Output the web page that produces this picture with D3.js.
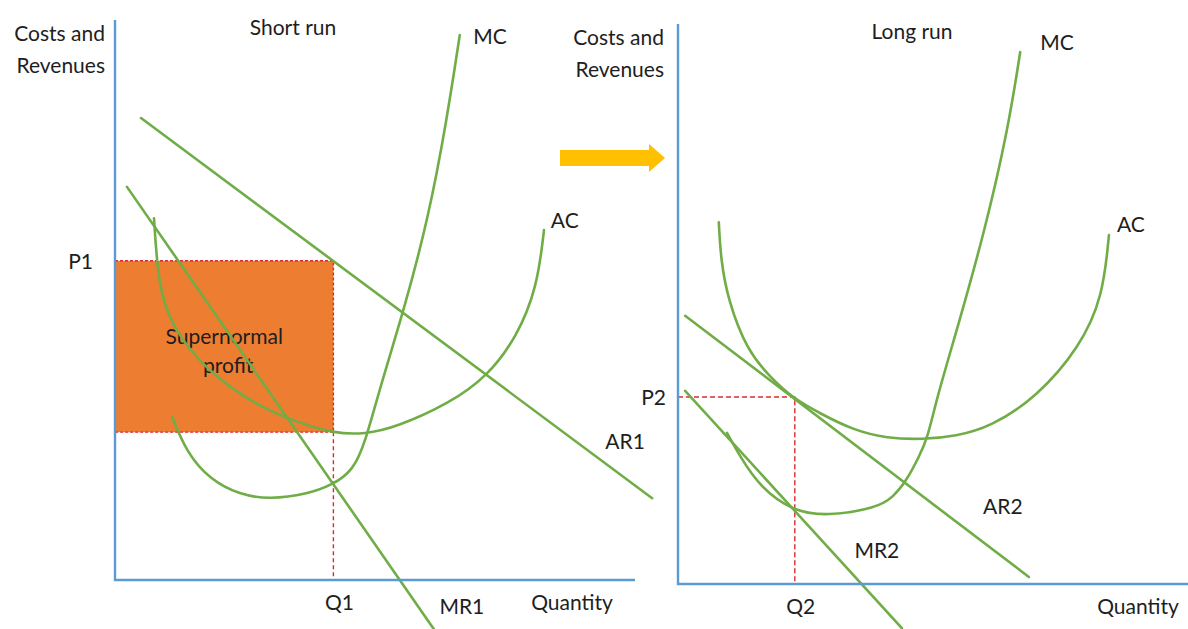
<!DOCTYPE html>
<html>
<head>
<meta charset="utf-8">
<script src="https://cdn.jsdelivr.net/npm/d3@7"></script>
<style>
  body { margin: 0; background: #fff; }
  text { font-family: Lato, "Open Sans", sans-serif; fill: #1e1e1e; font-size: 21px; }
</style>
</head>
<body>
<div id="chart"></div>
<script>
// values in chart units: quantity 0-100 along x, cost/revenue 0-100 along y

// short run
var p1 = 57;
var q1 = 42;
var acAtQ1 = 26.4;
var ar1 = [[5, 82.5], [103.3, 14.6]];
var mr1 = [[2.3, 70.2], [61.3, -8.75]];
var ac1 = [[7.5, 64.6], [8.3, 53.0], [10.6, 45.9], [15.8, 39.3], [22.7, 33.9], [29.2, 30.4],
           [35.0, 28.2], [42.0, 26.2], [48.0, 26.0], [54.2, 27.3], [64.4, 31.6], [71.5, 36.25],
           [77.3, 43.4], [81.2, 52.3], [82.5, 62.5]];
var mc1 = [[11.0, 29.1], [13.8, 22.7], [18.3, 17.9], [24.0, 15.2], [29.8, 14.4], [36.9, 15.3],
           [41.9, 17.0], [45.8, 19.6], [48.1, 24.5], [51.0, 34.5], [55.4, 47.7], [60.2, 64.3],
           [63.8, 82.1], [66.3, 97.3]];

// long run
var p2 = 33.4;
var q2 = 22.9;
var ar2 = [[1.4, 47.9], [68.8, 1.25]];
var mr2 = [[1.4, 34.5], [43.9, -7.9]];
var ac2 = [[8.0, 64.6], [8.4, 57.9], [9.8, 50.7], [13.5, 41.8], [18.0, 37.0], [22.5, 33.2],
           [27.8, 30.5], [34.3, 27.5], [41.0, 26.0], [48.0, 25.8], [54.5, 26.4], [61.2, 28.0],
           [70.4, 33.4], [78.8, 42.3], [83.3, 51.25], [84.5, 62.3]];
var mc2 = [[9.6, 27.0], [12.2, 22.7], [16.1, 17.3], [22.5, 13.0], [29.2, 12.1], [39.0, 13.6],
           [42.2, 15.5], [44.9, 18.6], [47.3, 22.8], [49.0, 26.25], [50.8, 33.4], [54.7, 45.4],
           [60.2, 63.2], [64.7, 81.1], [67.1, 95.0]];

// curve labels [text, x, y] in chart units
var labels1 = [["MC", 72.1, 95.7], ["AC", 86.5, 62.9], ["AR1", 98.1, 23.4], ["MR1", 66.7, -6.1]];
var labels2 = [["MC", 74.3, 95.4], ["AC", 88.8, 62.9], ["AR2", 63.7, 12.5], ["MR2", 39.0, 4.6]];

var width = 1188, height = 629;
var green = "#70ad47", blue = "#5b9bd5", red = "#dc2b2b";

var svg = d3.select("#chart").append("svg")
    .attr("width", width)
    .attr("height", height);

function drawPanel(opt) {
    var x = d3.scaleLinear().domain([0, 100]).range(opt.xRange);
    var y = d3.scaleLinear().domain([0, 100]).range(opt.yRange);
    var g = svg.append("g");
    var line = d3.line().x(d => x(d[0])).y(d => y(d[1]));
    var curve = d3.line().x(d => x(d[0])).y(d => y(d[1])).curve(d3.curveBasis);

    // profit area
    if (opt.profit) {
        g.append("rect")
            .attr("x", x(0))
            .attr("y", y(opt.p))
            .attr("width", x(opt.q) - x(0))
            .attr("height", y(opt.profit) - y(opt.p))
            .attr("fill", "#ed7d31")
            .attr("stroke", red)
            .attr("stroke-width", 1.4)
            .attr("stroke-dasharray", "3,2");
        var mid = y((opt.p + opt.profit) / 2);
        g.append("text")
            .attr("x", x(opt.q / 2))
            .attr("y", mid - 2)
            .attr("text-anchor", "middle")
            .text("Supernormal");
        g.append("text")
            .attr("x", x(opt.q / 2) + 4)
            .attr("y", mid + 27)
            .attr("text-anchor", "middle")
            .text("profit");
        g.append("line")
            .attr("x1", x(opt.q)).attr("x2", x(opt.q))
            .attr("y1", y(opt.profit)).attr("y2", y(0))
            .attr("stroke", red).attr("stroke-width", 1.4)
            .attr("stroke-dasharray", "4,3");
    } else {
        g.append("path")
            .attr("d", line([[0, opt.p], [opt.q, opt.p], [opt.q, 0]]))
            .attr("fill", "none")
            .attr("stroke", red).attr("stroke-width", 1.4)
            .attr("stroke-dasharray", "5,3");
    }

    // curves
    g.append("path").attr("d", line(opt.ar));
    g.append("path").attr("d", line(opt.mr));
    g.append("path").attr("d", curve(opt.ac));
    g.append("path").attr("d", curve(opt.mc));
    g.selectAll("path:not([stroke])")
        .attr("fill", "none")
        .attr("stroke", green)
        .attr("stroke-width", 2.6)
        .attr("stroke-linecap", "round");

    // axes
    g.append("path")
        .attr("d", line([[0, 100], [0, 0], [opt.xEnd, 0]]))
        .attr("fill", "none")
        .attr("stroke", blue)
        .attr("stroke-width", 2.4);

    // axis text
    g.append("text").attr("x", x(0) - opt.pGap).attr("y", y(opt.p) + 8)
        .attr("text-anchor", "end").text(opt.pLabel);
    g.append("text").attr("x", x(opt.q) + 6).attr("y", y(0) + 30)
        .attr("text-anchor", "middle").text(opt.qLabel);
    g.append("text").attr("x", opt.quantityX).attr("y", y(0) + 30)
        .attr("text-anchor", "middle").text("Quantity");
    g.append("text").attr("x", x(0) - opt.yGap).attr("y", y(100) + 21)
        .attr("text-anchor", "end").text("Costs and");
    g.append("text").attr("x", x(0) - opt.yGap).attr("y", y(100) + 53)
        .attr("text-anchor", "end").text("Revenues");
    g.append("text").attr("x", opt.titleX).attr("y", y(100) + 15)
        .attr("text-anchor", "middle").text(opt.title);

    g.selectAll(".curve-label")
        .data(opt.labels)
        .join("text")
        .attr("class", "curve-label")
        .attr("x", d => x(d[1]))
        .attr("y", d => y(d[2]))
        .attr("text-anchor", "middle")
        .text(d => d[0]);
}

drawPanel({
    xRange: [115, 635], yRange: [580, 20], xEnd: 100,
    p: p1, q: q1, profit: acAtQ1, ar: ar1, mr: mr1, ac: ac1, mc: mc1,
    pLabel: "P1", qLabel: "Q1", title: "Short run", titleX: 293, quantityX: 572,
    pGap: 22, yGap: 10, labels: labels1
});

drawPanel({
    xRange: [678, 1188], yRange: [584, 24], xEnd: 100,
    p: p2, q: q2, profit: null, ar: ar2, mr: mr2, ac: ac2, mc: mc2,
    pLabel: "P2", qLabel: "Q2", title: "Long run", titleX: 912, quantityX: 1138,
    pGap: 12, yGap: 14, labels: labels2
});

// arrow between the two panels
var arrowX = 560, arrowY = 158;
svg.append("path")
    .attr("d", d3.line()([
        [arrowX, arrowY - 8], [arrowX + 89, arrowY - 8], [arrowX + 89, arrowY - 14],
        [arrowX + 105, arrowY], [arrowX + 89, arrowY + 14], [arrowX + 89, arrowY + 8],
        [arrowX, arrowY + 8]]) + "Z")
    .attr("fill", "#ffc000");
</script>
</body>
</html>
